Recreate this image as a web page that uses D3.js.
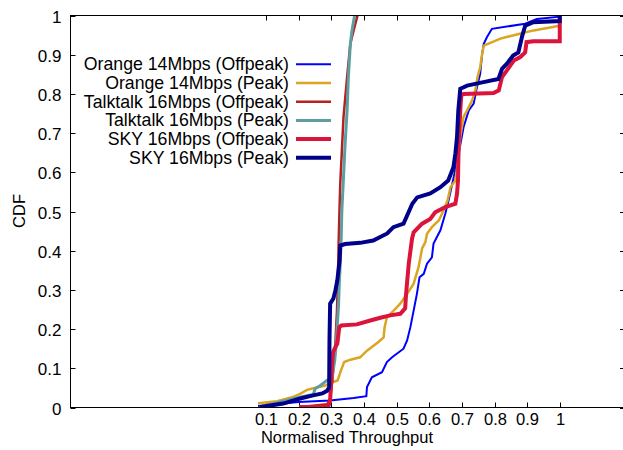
<!DOCTYPE html>
<html><head><meta charset="utf-8">
<script src="https://cdn.jsdelivr.net/npm/d3@7"></script>
<style>body{margin:0;background:#fff}svg{display:block}text{font-family:"Liberation Sans",Arial,sans-serif;fill:#000}</style>
</head><body>
<script>
const seriesNames = ["Orange 14Mbps (Offpeak)","Orange 14Mbps (Peak)","Talktalk 16Mbps (Offpeak)","Talktalk 16Mbps (Peak)","SKY 16Mbps (Offpeak)","SKY 16Mbps (Peak)"];
const seriesColors = ["#0000ff","#daa520","#b22222","#5f9ea0","#dc143c","#00008b"];
const xTicks = [0.1,0.2,0.3,0.4,0.5,0.6,0.7,0.8,0.9,1];
const yTicks = [0,0.1,0.2,0.3,0.4,0.5,0.6,0.7,0.8,0.9,1];

const orangeOffpeak = [[0.075,0.004],[0.199,0.014],[0.296,0.018],[0.368,0.024],[0.407,0.029],[0.409,0.052],[0.424,0.077],[0.455,0.090],[0.470,0.116],[0.486,0.128],[0.521,0.150],[0.532,0.171],[0.542,0.205],[0.552,0.247],[0.562,0.290],[0.570,0.332],[0.583,0.341],[0.593,0.367],[0.608,0.383],[0.613,0.418],[0.634,0.452],[0.649,0.494],[0.659,0.528],[0.675,0.588],[0.690,0.647],[0.705,0.715],[0.721,0.758],[0.736,0.775],[0.746,0.817],[0.756,0.851],[0.762,0.902],[0.767,0.928],[0.777,0.945],[0.792,0.966],[0.894,0.979],[0.930,0.991],[1.0,0.997],[1.0,1.0]];
const orangePeak = [[0.075,0.011],[0.133,0.016],[0.179,0.026],[0.204,0.035],[0.225,0.045],[0.245,0.049],[0.281,0.056],[0.305,0.065],[0.319,0.069],[0.329,0.094],[0.339,0.116],[0.358,0.122],[0.388,0.128],[0.409,0.145],[0.444,0.167],[0.460,0.179],[0.463,0.205],[0.470,0.230],[0.486,0.243],[0.511,0.265],[0.532,0.290],[0.552,0.316],[0.567,0.358],[0.578,0.406],[0.588,0.422],[0.593,0.443],[0.608,0.460],[0.629,0.477],[0.644,0.503],[0.656,0.528],[0.665,0.562],[0.680,0.579],[0.690,0.639],[0.695,0.690],[0.705,0.741],[0.716,0.758],[0.731,0.783],[0.741,0.809],[0.748,0.843],[0.756,0.868],[0.762,0.902],[0.767,0.923],[0.818,0.941],[0.874,0.953],[0.920,0.962],[1.0,0.974],[1.0,1.0]];
const talktalkOffpeak = [[0.204,0.001],[0.287,0.008],[0.296,0.023],[0.303,0.069],[0.312,0.163],[0.317,0.247],[0.320,0.332],[0.322,0.418],[0.324,0.485],[0.327,0.571],[0.332,0.656],[0.337,0.741],[0.348,0.843],[0.358,0.928],[0.368,0.962],[0.380,1.0]];
const talktalkPeak = [[0.088,0.003],[0.204,0.026],[0.243,0.033],[0.245,0.035],[0.250,0.048],[0.266,0.056],[0.286,0.069],[0.302,0.077],[0.310,0.120],[0.314,0.154],[0.317,0.196],[0.322,0.265],[0.324,0.316],[0.327,0.367],[0.330,0.434],[0.332,0.503],[0.337,0.587],[0.342,0.673],[0.348,0.758],[0.352,0.843],[0.358,0.928],[0.363,0.962],[0.371,1.0]];
const skyOffpeak = [[0.201,0.001],[0.290,0.001],[0.296,0.018],[0.302,0.112],[0.305,0.141],[0.312,0.154],[0.318,0.163],[0.324,0.205],[0.330,0.209],[0.378,0.212],[0.419,0.222],[0.450,0.229],[0.480,0.235],[0.511,0.239],[0.526,0.253],[0.529,0.291],[0.537,0.367],[0.547,0.430],[0.552,0.447],[0.578,0.469],[0.603,0.481],[0.618,0.498],[0.649,0.511],[0.680,0.520],[0.685,0.545],[0.688,0.579],[0.690,0.673],[0.695,0.758],[0.698,0.796],[0.705,0.800],[0.797,0.802],[0.813,0.809],[0.823,0.843],[0.838,0.860],[0.859,0.885],[0.879,0.894],[0.894,0.906],[0.898,0.932],[0.919,0.934],[1.0,0.934],[1.0,1.0]];
const skyPeak = [[0.082,0.001],[0.097,0.003],[0.152,0.010],[0.204,0.023],[0.244,0.031],[0.272,0.036],[0.287,0.043],[0.293,0.051],[0.294,0.171],[0.296,0.265],[0.306,0.278],[0.312,0.298],[0.318,0.324],[0.325,0.375],[0.327,0.413],[0.342,0.417],[0.388,0.420],[0.428,0.426],[0.471,0.444],[0.490,0.460],[0.521,0.469],[0.548,0.520],[0.563,0.536],[0.603,0.546],[0.634,0.562],[0.658,0.579],[0.674,0.613],[0.680,0.648],[0.685,0.690],[0.689,0.758],[0.695,0.813],[0.716,0.821],[0.766,0.830],[0.812,0.838],[0.823,0.864],[0.838,0.877],[0.857,0.898],[0.873,0.906],[0.884,0.945],[0.894,0.974],[0.919,0.983],[1.0,0.986],[1.0,1.0]];
const seriesData = [orangeOffpeak, orangePeak, talktalkOffpeak, talktalkPeak, skyOffpeak, skyPeak];
const seriesWidths = [2, 2.5, 2.5, 3, 4, 4];

const W = 623, H = 450;
const M = {left:70.5, right:625, top:15.5, bottom:407.5};
const svg = d3.select("body").append("svg").attr("width",W).attr("height",H);
const x = d3.scaleLinear().domain([-0.5,1.2]).range([M.left, M.right]);
const y = d3.scaleLinear().domain([0,1]).range([M.bottom, M.top]);
const fmt = d => d === 0 ? "0" : d === 1 ? "1" : d3.format(".1f")(d);

const g = svg.append("g");
const tl = 5;
const tickStyle = s => s.attr("stroke","#000").attr("stroke-width",1);
xTicks.forEach(t => {
  const px = Math.round(x(t)) + 0.5;
  tickStyle(g.append("line").attr("x1",px).attr("x2",px).attr("y1",M.bottom).attr("y2",M.bottom-tl));
  tickStyle(g.append("line").attr("x1",px).attr("x2",px).attr("y1",M.top).attr("y2",M.top+tl));
  g.append("text").attr("x",px).attr("y",424.5).attr("text-anchor","middle").attr("font-size",16.5).text(fmt(t));
});
yTicks.forEach(t => {
  const py = Math.round(y(t)) + 0.5;
  tickStyle(g.append("line").attr("x1",M.left).attr("x2",M.left+tl).attr("y1",py).attr("y2",py));
  tickStyle(g.append("line").attr("x1",M.right).attr("x2",M.right-tl).attr("y1",py).attr("y2",py));
  g.append("text").attr("x",61.5).attr("y",py+6).attr("text-anchor","end").attr("font-size",17).text(fmt(t));
});

const line = d3.line().x(d => x(d[0])).y(d => y(d[1]));
svg.append("clipPath").attr("id","c").append("rect").attr("x",M.left).attr("y",M.top-3).attr("width",M.right-M.left).attr("height",M.bottom-M.top+3);
seriesData.forEach((data,i) => {
  svg.append("path").attr("d",line(data)).attr("fill","none").attr("stroke",seriesColors[i])
    .attr("stroke-width",seriesWidths[i]).attr("stroke-linejoin","miter").attr("clip-path","url(#c)");
});

svg.append("rect").attr("x",M.left).attr("y",M.top).attr("width",M.right-M.left).attr("height",M.bottom-M.top)
  .attr("fill","none").attr("stroke","#000").attr("stroke-width",1);

seriesNames.forEach((name,i) => {
  const ly = 64.3 + i*18.7;
  svg.append("text").attr("x",289).attr("y",ly+6).attr("text-anchor","end").attr("font-size",17.7).text(name);
  svg.append("line").attr("x1",296).attr("x2",331).attr("y1",ly).attr("y2",ly)
    .attr("stroke",seriesColors[i]).attr("stroke-width",seriesWidths[i]);
});

svg.append("text").attr("x",347).attr("y",443).attr("text-anchor","middle").attr("font-size",16.5).text("Normalised Throughput");
svg.append("text").attr("transform","translate(25,211) rotate(-90)").attr("text-anchor","middle").attr("font-size",16.5).text("CDF");
</script>
</body></html>
